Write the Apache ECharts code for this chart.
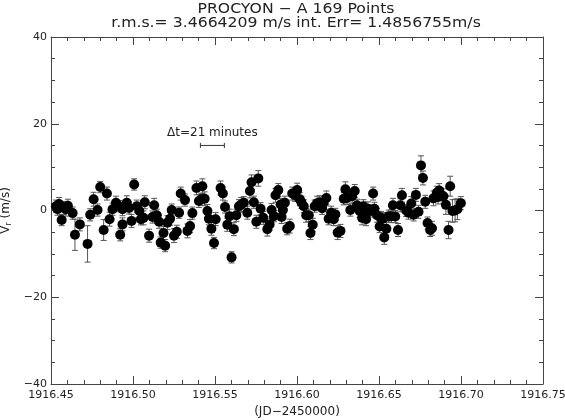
<!DOCTYPE html>
<html>
<head>
<meta charset="utf-8">
<script src="https://cdn.jsdelivr.net/npm/echarts@6/dist/echarts.min.js"></script>
<style>html,body{margin:0;padding:0;background:#fff}#c{width:565px;height:420px}</style>
</head>
<body>
<div id="c"></div>
<script>
var titleLine1 = 'PROCYON \u2212 A 169 Points';
var titleLine2 = 'r.m.s.= 3.4664209 m/s int. Err= 1.4856755m/s';
var xName = '(JD\u22122450000)';
var xTicks = [1916.45, 1916.50, 1916.55, 1916.60, 1916.65, 1916.70, 1916.75];
var yTicks = [-40, -20, 0, 20, 40];

var times = [
1916.4530,1916.4549,1916.4565,1916.4579,1916.4591,1916.4632,1916.4646,1916.4676,1916.4723,1916.4739,
1916.4760,1916.4784,1916.4800,1916.4841,1916.4821,1916.4857,1916.4875,1916.4896,1916.4916,1916.4936,
1916.4922,1916.5007,1916.4936,1916.4962,1916.4976,1916.4991,1916.5023,1916.5048,1916.5064,1916.5072,
1916.5098,1916.5119,1916.5129,1916.5145,1916.5159,1916.5169,1916.5186,1916.5196,1916.5210,1916.5226,
1916.5236,1916.5250,1916.5267,1916.5281,1916.5291,1916.5317,1916.5332,1916.5348,1916.5362,1916.5387,
1916.5402,1916.5423,1916.5417,1916.5437,1916.5454,1916.5463,1916.5478,1916.5494,1916.5504,1916.5534,
1916.5548,1916.5561,1916.5575,1916.5589,1916.5601,1916.5615,1916.5630,1916.5646,1916.5660,1916.5676,
1916.5697,1916.5713,1916.5723,1916.5737,1916.5752,1916.5764,1916.5778,1916.5794,1916.5819,1916.5833,
1916.5845,1916.5859,1916.5869,1916.5886,1916.5900,1916.5914,1916.5926,1916.5940,1916.5956,1916.5971,
1916.5987,1916.6001,1916.6017,1916.6027,1916.6041,1916.6056,1916.6072,1916.6082,1916.6096,1916.6108,
1916.6123,1916.6139,1916.6153,1916.6163,1916.6179,1916.6193,1916.6208,1916.6224,1916.6234,1916.6248,
1916.6265,1916.6285,1916.6295,1916.6305,1916.6325,1916.6336,1916.6352,1916.6366,1916.6382,1916.6397,
1916.6406,1916.6421,1916.6433,1916.6447,1916.6464,1916.6472,1916.6488,1916.6504,1916.6512,1916.6524,
1916.6532,1916.6545,1916.6559,1916.6575,1916.6585,1916.6599,1916.6616,1916.6630,1916.6640,1916.6666,
1916.6680,1916.6697,1916.6711,1916.6725,1916.6741,1916.6756,1916.6768,1916.6782,1916.6796,1916.6812,
1916.6823,1916.6832,1916.6853,1916.6867,1916.6877,1916.6893,1916.6908,1916.6924,1916.6934,1916.6948,
1916.6964,1916.6978,1916.6999,1916.4540,1916.4603,1916.5039,1916.5906,1916.6405,1916.6860
];

var rv = [
1.0,1.5,-2.2,0.6,0.3,-0.6,-5.6,-3.2,-7.7,-1.0,
2.6,0.1,5.4,3.9,-4.5,-2.0,0.3,1.8,1.0,-3.2,
-5.6,6.0,0.3,1.8,0.6,-2.4,1.0,-2.0,-1.7,1.9,
-5.8,-1.5,1.2,-1.1,-2.6,-7.4,-5.2,-8.1,-2.8,-1.9,
0.1,-5.8,-4.9,-0.5,3.9,2.4,-4.7,-3.6,-0.6,5.2,
2.2,5.6,2.6,2.7,-0.1,-1.9,-4.2,-7.5,-2.0,5.2,
3.9,0.8,-3.3,-1.3,-10.8,-4.3,-1.1,1.0,1.4,1.8,
-0.5,4.5,6.5,1.9,-2.6,7.4,0.4,-1.7,-4.3,-3.2,
0.1,-1.3,3.5,4.7,1.4,0.1,1.8,-4.2,-3.6,3.9,
3.5,4.7,2.6,1.9,1.0,-1.1,-1.1,-5.2,-3.3,1.0,
1.7,1.9,0.5,1.8,2.9,-1.9,-0.5,-2.0,-0.9,-5.1,
-4.7,2.7,4.9,2.9,0.1,3.3,4.5,1.2,-0.1,-1.7,
-0.5,-2.0,0.4,-0.1,3.9,0.4,-1.1,-3.7,-1.7,-1.9,
-6.2,-4.2,-1.3,-1.3,1.2,-1.4,-4.5,1.2,3.5,0.0,
-0.5,1.6,-1.0,3.6,-0.3,10.4,7.5,2.0,-2.9,-4.5,
-4.1,2.8,4.1,4.6,3.7,3.3,1.3,-4.5,5.6,-0.1,
0.0,0.3,1.7,0.3,1.1,-0.1,-1.5,1.0,3.1
];

var errs = [
1.4,1.5,1.3,1.5,1.6,1.4,3.6,1.5,4.2,1.4,
1.6,1.4,1.3,1.5,2.4,1.6,1.4,1.5,1.3,1.5,
1.4,1.3,1.5,1.6,1.4,1.5,1.4,1.3,1.6,1.5,
1.5,1.4,1.6,1.4,1.5,1.3,1.5,1.4,1.6,1.5,
1.4,1.6,1.5,1.3,1.5,1.4,1.6,1.5,1.4,1.6,
1.5,1.7,1.4,1.6,1.5,1.4,1.5,1.3,1.5,1.6,
1.5,1.4,1.5,1.6,1.3,1.5,1.4,1.5,1.6,1.4,
1.5,1.6,1.7,1.4,1.5,1.8,1.4,1.5,1.6,1.4,
1.5,1.3,1.6,1.5,1.4,1.6,1.5,1.4,1.6,1.5,
1.4,1.6,1.5,1.4,1.5,1.6,1.4,1.5,1.5,1.4,
1.6,1.5,1.4,1.5,1.6,1.4,1.5,1.5,1.4,1.6,
1.5,1.4,1.7,1.5,1.4,1.6,1.5,1.4,1.5,1.6,
1.4,1.5,1.6,1.4,1.5,1.5,1.6,1.4,1.5,1.4,
1.6,1.5,1.4,1.5,1.6,1.4,1.5,1.5,1.6,1.4,
1.5,1.6,1.4,1.5,1.5,2.2,1.6,1.5,1.4,1.5,
1.6,1.7,1.5,1.6,1.5,1.7,2.2,2.0,2.3,2.6,
2.6,2.4,1.5,1.4,1.5,1.4,1.5,1.5,1.6
];

// Δt = 21 minutes scale bar (start, end in JD, level in m/s)
var dtLabel = '\u0394t=21 minutes';
var dtBar = [[1916.5411, 1916.5557, 15.0]];

var FONT = 'DejaVu Sans';
var TXT = '#222';
var AX = '#444';

var points = [], bars = [];
for (var i = 0; i < times.length; i++) {
  points.push([times[i], rv[i]]);
  bars.push([times[i], rv[i], errs[i]]);
}

function fmtY(v) { return String(v).replace('-', '\u2212'); }

var chart = echarts.init(document.getElementById('c'), null, {renderer: 'canvas'});

var axisCommonX = {
  type: 'value', min: xTicks[0], max: xTicks[xTicks.length - 1], interval: 0.05,
  axisLine: {show: true, onZero: false, lineStyle: {color: AX, width: 1}},
  axisTick: {show: true, inside: true, length: 8, lineStyle: {color: AX}},
  minorTick: {show: true, splitNumber: 5, length: 4, lineStyle: {color: AX}},
  splitLine: {show: false}
};
var axisCommonY = {
  type: 'value', min: yTicks[0], max: yTicks[yTicks.length - 1], interval: 20,
  axisLine: {show: true, onZero: false, lineStyle: {color: AX, width: 1}},
  axisTick: {show: true, inside: true, length: 8, lineStyle: {color: AX}},
  minorTick: {show: true, splitNumber: 4, length: 4, lineStyle: {color: AX}},
  splitLine: {show: false}
};

chart.setOption({
  animation: false,
  backgroundColor: '#fff',
  grid: {left: 51, right: 22, top: 37, bottom: 36, containLabel: false, outerBoundsMode: 'none'},
  graphic: [
    {type: 'text', x: 296, y: 2, scaleX: 1.12,
      style: {text: titleLine1, x: 0, y: 0, align: 'center', verticalAlign: 'top', font: '14px "' + FONT + '"', fill: TXT}},
    {type: 'text', x: 296, y: 16, scaleX: 1.12,
      style: {text: titleLine2, x: 0, y: 0, align: 'center', verticalAlign: 'top', font: '14px "' + FONT + '"', fill: TXT}}
  ],
  xAxis: [
    Object.assign({}, axisCommonX, {
      position: 'bottom',
      name: xName, nameLocation: 'middle', nameGap: 21,
      nameTextStyle: {fontFamily: FONT, fontSize: 12, color: TXT},
      axisLabel: {show: true, margin: 6, fontFamily: FONT, fontSize: 11, color: TXT,
        formatter: function (v) { return v.toFixed(2); }}
    }),
    Object.assign({}, axisCommonX, {position: 'top', axisLabel: {show: false}})
  ],
  yAxis: [
    Object.assign({}, axisCommonY, {
      position: 'left',
      name: '{v|V}{s|r}{v| (m/s)}', nameLocation: 'middle', nameGap: 32, nameRotate: 90,
      nameTextStyle: {rich: {
        v: {fontFamily: FONT, fontSize: 12, color: TXT},
        s: {fontFamily: FONT, fontSize: 8, color: TXT, verticalAlign: 'bottom', padding: [6, 0, 0, 0]}
      }},
      axisLabel: {show: true, margin: 4, fontFamily: FONT, fontSize: 11, color: TXT, formatter: fmtY}
    }),
    Object.assign({}, axisCommonY, {position: 'right', axisLabel: {show: false}})
  ],
  series: [
    {
      type: 'custom', xAxisIndex: 0, yAxisIndex: 0, z: 2,
      data: bars,
      encode: {x: 0, y: 1},
      renderItem: function (params, api) {
        var x = api.value(0), y = api.value(1), e = api.value(2);
        var top = api.coord([x, y + e]);
        var bot = api.coord([x, y - e]);
        var st = {stroke: '#555', lineWidth: 1};
        return {type: 'group', children: [
          {type: 'line', shape: {x1: top[0], y1: top[1], x2: bot[0], y2: bot[1]}, style: st},
          {type: 'line', shape: {x1: top[0] - 3, y1: top[1], x2: top[0] + 3, y2: top[1]}, style: st},
          {type: 'line', shape: {x1: bot[0] - 3, y1: bot[1], x2: bot[0] + 3, y2: bot[1]}, style: st}
        ]};
      }
    },
    {
      type: 'scatter', xAxisIndex: 0, yAxisIndex: 0, z: 3,
      data: points, symbol: 'circle', symbolSize: 10,
      itemStyle: {color: '#000', opacity: 1}
    },
    {
      type: 'custom', xAxisIndex: 0, yAxisIndex: 0, z: 4,
      data: dtBar,
      renderItem: function (params, api) {
        var a = api.coord([api.value(0), api.value(2)]);
        var b = api.coord([api.value(1), api.value(2)]);
        var st = {stroke: '#333', lineWidth: 1};
        return {type: 'group', children: [
          {type: 'line', shape: {x1: a[0], y1: a[1], x2: b[0], y2: b[1]}, style: st},
          {type: 'line', shape: {x1: a[0], y1: a[1] - 2.5, x2: a[0], y2: a[1] + 2.5}, style: st},
          {type: 'line', shape: {x1: b[0], y1: b[1] - 2.5, x2: b[0], y2: b[1] + 2.5}, style: st},
          {type: 'text', style: {text: dtLabel, x: (a[0] + b[0]) / 2, y: a[1] - 7,
            align: 'center', verticalAlign: 'bottom', font: '12px "' + FONT + '"', fill: TXT}}
        ]};
      }
    }
  ]
});
</script>
</body>
</html>
